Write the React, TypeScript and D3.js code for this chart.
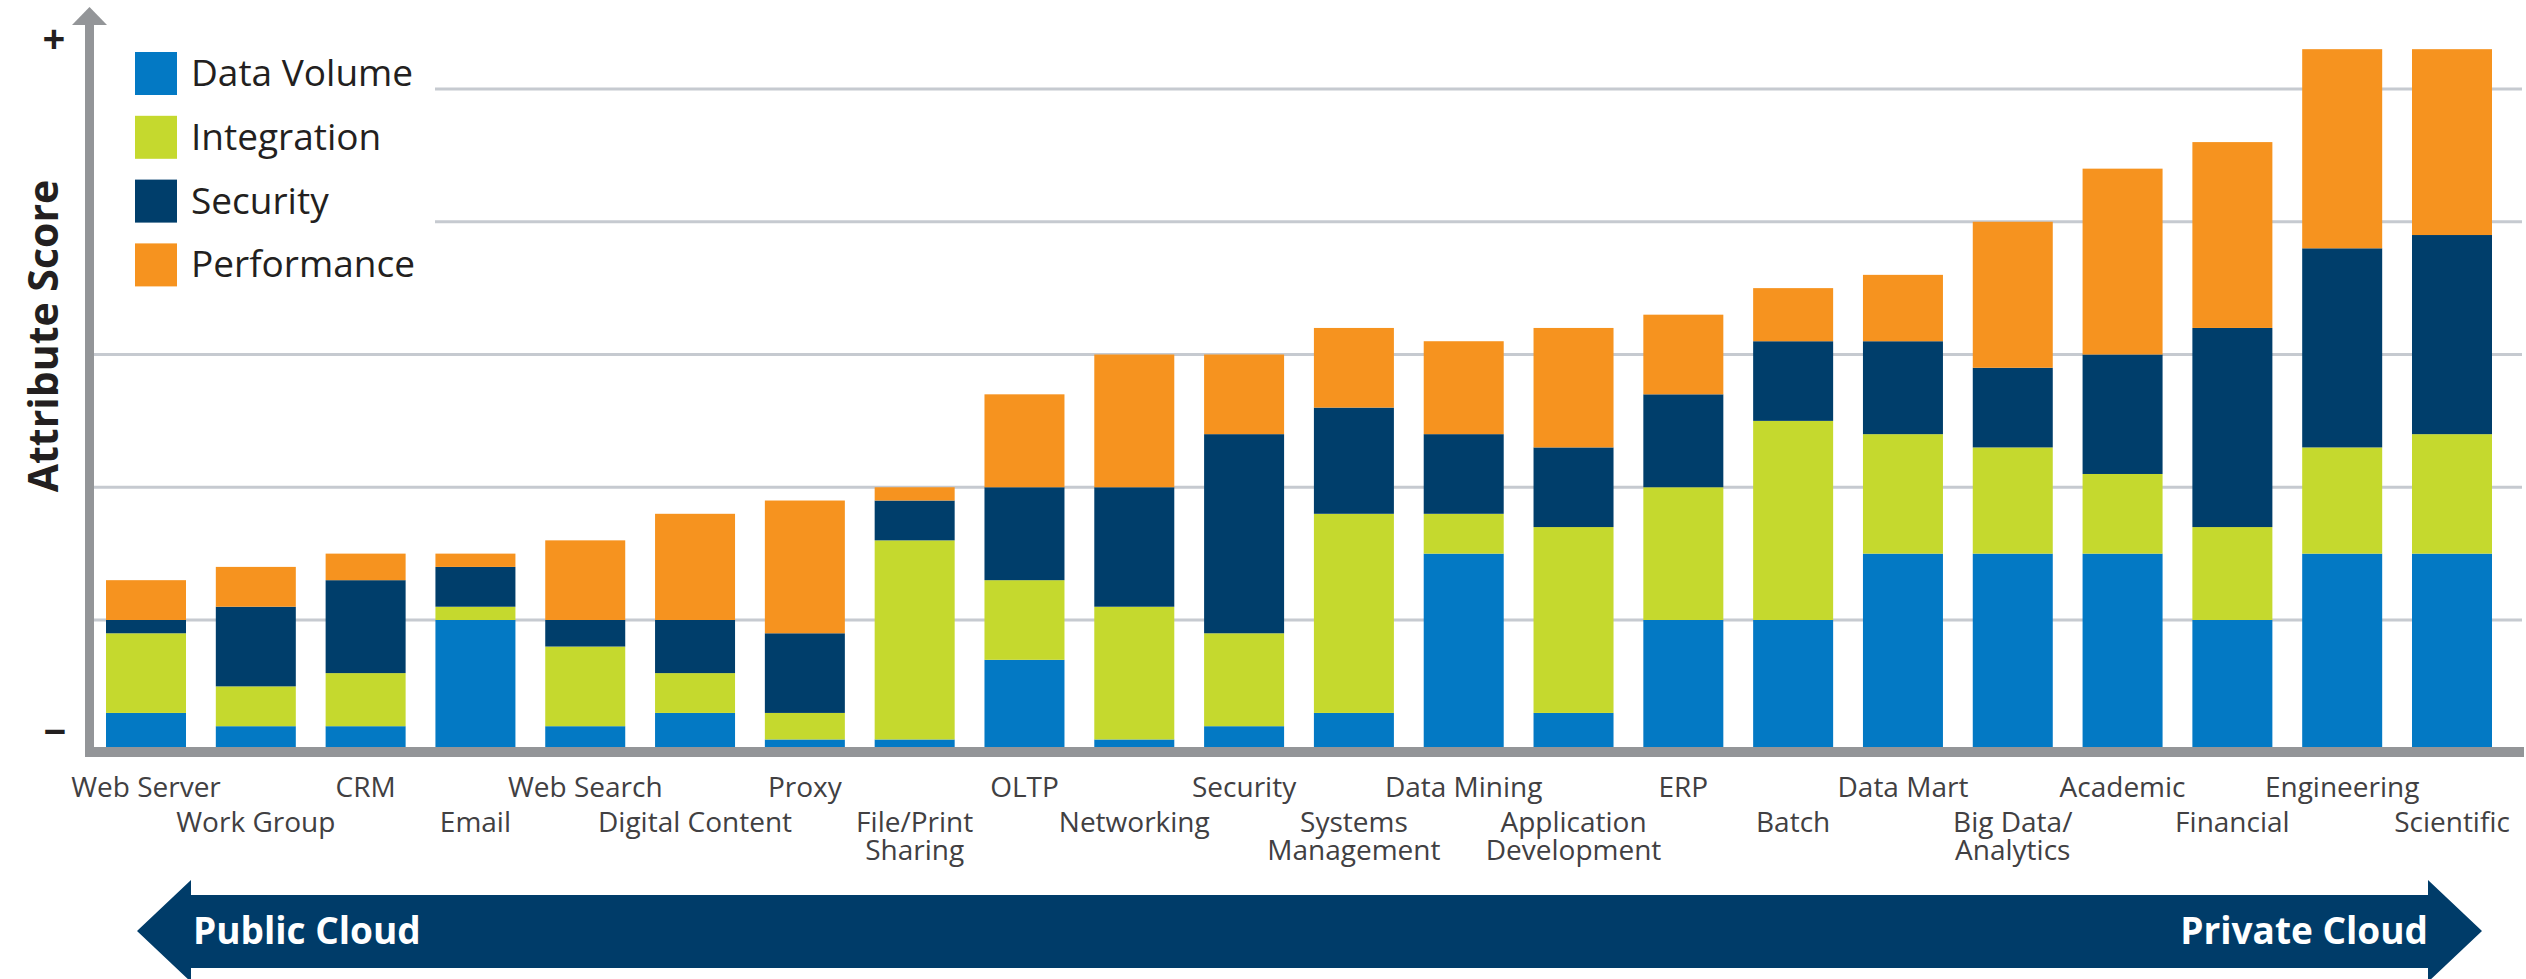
import React, { useEffect, useRef } from "react";
import * as d3 from "d3";

// workloads, left (public cloud) to right (private cloud)
const categories = [
  "Web Server", "Work Group", "CRM", "Email", "Web Search", "Digital Content",
  "Proxy", "File/Print\nSharing", "OLTP", "Networking", "Security",
  "Systems\nManagement", "Data Mining", "Application\nDevelopment", "ERP",
  "Batch", "Data Mart", "Big Data/\nAnalytics", "Academic", "Financial",
  "Engineering", "Scientific",
];

// attribute scores (gridline every 10)
const dataVolume = [3, 2, 2, 10, 2, 3, 1, 1, 7, 1, 2, 3, 15, 3, 10, 10, 15, 15, 15, 10, 15, 15];
const integration = [6, 3, 4, 1, 6, 3, 2, 15, 6, 10, 7, 15, 3, 14, 10, 15, 9, 8, 6, 7, 8, 9];
const security = [1, 6, 7, 3, 2, 4, 6, 3, 7, 9, 15, 8, 6, 6, 7, 6, 7, 6, 9, 15, 15, 15];
const performance = [3, 3, 2, 1, 6, 8, 10, 1, 7, 10, 6, 6, 7, 9, 6, 4, 5, 11, 14, 14, 15, 14];

const seriesNames = ["Data Volume", "Integration", "Security", "Performance"];
const seriesColors = ["#0379c4", "#c5d92e", "#003e6b", "#f6931f"];
const gridTicks = [10, 20, 30, 40, 50];

const font = "'Open Sans', 'Noto Sans', sans-serif";

function App() {
  const ref = useRef<SVGSVGElement>(null);

  useEffect(() => {
    const width = 2526;
    const height = 979;
    const svg = d3.select(ref.current).attr("width", width).attr("height", height);
    svg.selectAll("*").remove();

    const rows = categories.map((c, i) => ({
      name: c,
      "Data Volume": dataVolume[i],
      Integration: integration[i],
      Security: security[i],
      Performance: performance[i],
    }));

    const xScale = d3.scaleBand()
      .domain(categories)
      .range([91.1, 2506.9])
      .paddingInner(0.2715)
      .paddingOuter(0.1357);
    const yScale = d3.scaleLinear().domain([0, 50]).range([752.75, 89]);
    const color = d3.scaleOrdinal<string>().domain(seriesNames).range(seriesColors);

    // gridlines (the top two stop short of the legend)
    svg.append("g")
      .selectAll("line")
      .data(gridTicks)
      .enter()
      .append("line")
      .attr("x1", d => (d >= 40 ? 435 : 94))
      .attr("x2", 2522)
      .attr("y1", d => yScale(d))
      .attr("y2", d => yScale(d))
      .attr("stroke", "#c6cad0")
      .attr("stroke-width", 3);

    const stacked = d3.stack<any>().keys(seriesNames)(rows);

    svg.append("g")
      .selectAll("g")
      .data(stacked)
      .enter()
      .append("g")
      .attr("fill", d => color(d.key))
      .selectAll("rect")
      .data(d => d)
      .enter()
      .append("rect")
      .attr("x", d => xScale(d.data.name)!)
      .attr("y", d => yScale(d[1]))
      .attr("width", xScale.bandwidth())
      .attr("height", d => yScale(d[0]) - yScale(d[1]));

    // axes: grey bar along the bottom and arrow going up
    const axisColor = "#939598";
    svg.append("rect").attr("x", 85).attr("y", 747).attr("width", 2439).attr("height", 10).attr("fill", axisColor);
    svg.append("rect").attr("x", 85).attr("y", 24).attr("width", 9).attr("height", 733).attr("fill", axisColor);
    svg.append("path").attr("d", "M72,25 L107,25 L89.5,7 Z").attr("fill", axisColor);

    svg.append("text").attr("x", 54).attr("y", 53).attr("text-anchor", "middle")
      .style("font-family", font).style("font-weight", 700).style("font-size", "40px")
      .attr("fill", "#231f20").text("+");
    svg.append("text").attr("x", 55).attr("y", 746).attr("text-anchor", "middle")
      .style("font-family", font).style("font-weight", 700).style("font-size", "40px")
      .attr("fill", "#231f20").text("−");

    svg.append("text")
      .attr("transform", "translate(58, 336) rotate(-90)")
      .attr("text-anchor", "middle")
      .style("font-family", font).style("font-weight", 700).style("font-size", "41px")
      .attr("fill", "#231f20")
      .text("Attribute Score");

    // legend
    const legend = svg.append("g");
    seriesNames.forEach((s, i) => {
      legend.append("rect").attr("x", 135).attr("y", 52 + i * 63.8).attr("width", 42).attr("height", 43).attr("fill", color(s));
      legend.append("text").attr("x", 191).attr("y", 86 + i * 63.8)
        .style("font-family", font).style("font-size", "37px")
        .attr("fill", "#231f20").text(s);
    });

    // category labels, staggered on two rows
    const labels = svg.append("g")
      .style("font-family", font).style("font-size", "28px")
      .attr("fill", "#414042")
      .attr("text-anchor", "middle");
    categories.forEach((c, i) => {
      const cx = xScale(c)! + xScale.bandwidth() / 2;
      const y0 = i % 2 === 0 ? 797 : 832;
      const t = labels.append("text").attr("x", cx).attr("y", y0);
      c.split("\n").forEach((line, j) => {
        t.append("tspan").attr("x", cx).attr("dy", j === 0 ? 0 : 28).text(line);
      });
    });

    // public/private cloud arrow
    svg.append("path")
      .attr("d", "M137,931 L191,880 L191,895 L2428,895 L2428,880 L2482,931 L2428,982 L2428,968 L191,968 L191,982 Z")
      .attr("fill", "#003c69");
    svg.append("text").attr("x", 193).attr("y", 944)
      .style("font-family", font).style("font-weight", 700).style("font-size", "37px")
      .attr("fill", "#ffffff").text("Public Cloud");
    svg.append("text").attr("x", 2428).attr("y", 944).attr("text-anchor", "end")
      .style("font-family", font).style("font-weight", 700).style("font-size", "37px")
      .attr("fill", "#ffffff").text("Private Cloud");
  }, []);

  return (
    <svg ref={ref} style={{ position: "absolute", left: 0, top: 0, background: "#ffffff" }}></svg>
  );
}

export default App;
